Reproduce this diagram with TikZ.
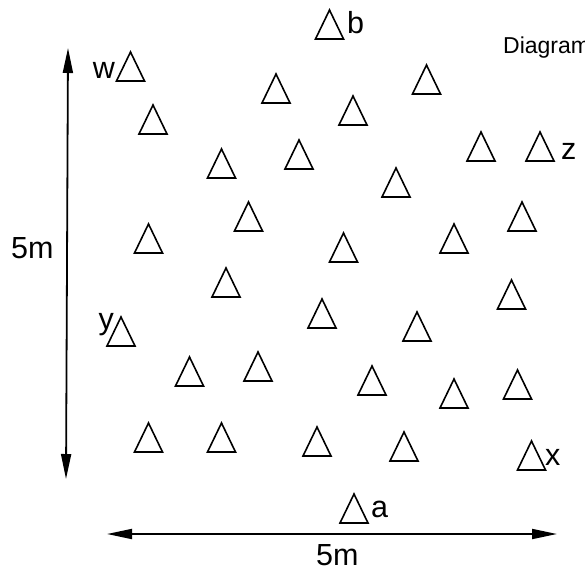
\documentclass[tikz,border=0pt]{standalone}
\usepackage{fontspec}
\setmainfont{Liberation Sans}
\usetikzlibrary{arrows.meta}
\tikzset{
  tri/.style={line width=1.6pt, line join=miter},
  lbl/.style={inner sep=0pt, font=\fontsize{30.5}{32}\selectfont},
  dim/.style={line width=1.8pt, {Triangle[length=25pt,width=10pt]}-{Triangle[length=25pt,width=10pt]}}
}
\begin{document}
\begin{tikzpicture}[x=1pt,y=-1pt]
  \useasboundingbox (0,0) rectangle (585,570);
  % triangles: base centre
  \foreach \cx/\by in {130.5/81, 153/134, 276/103, 329.5/39, 353/125, 426.5/94,
      221.5/178, 299/169, 396/197, 481/161, 540/161, 248.5/231, 148.5/253,
      343.5/262, 454/253, 522/231, 226/297, 322/328, 511.5/309, 121/346,
      417/341, 189.5/386, 258/381, 372/395, 454/408, 517.5/399, 148.5/452,
      221.5/452, 317/456, 404/461, 531.5/470, 354/523}
    \draw[tri] (\cx-14,\by) -- (\cx+14,\by) -- (\cx,\by-29) -- cycle;
  % labels
  \node[lbl, anchor=base east] (w) at (115,78) {w};
  \node[lbl, anchor=base west] (b) at (347,33) {b};
  \node[lbl, anchor=base west] (z) at (561,159) {z};
  \node[lbl, anchor=base east] (y) at (114,329) {y};
  \node[lbl, anchor=base west] (x) at (545,465) {x};
  \node[lbl, anchor=base west] (a) at (371,517) {a};
  \node[inner sep=0pt, anchor=base west, font=\fontsize{23}{25}\selectfont] (title) at (503,53) {Diagram};
  % dimensions
  \coordinate (vtop) at (68,48);
  \coordinate (vbot) at (66,479);
  \coordinate (hleft) at (107,534);
  \coordinate (hright) at (557,534);
  \draw[dim] (vtop) -- (vbot);
  \draw[dim] (hleft) -- (hright);
  \node[lbl, anchor=base west] (vlen) at (11,258) {5m};
  \node[lbl, anchor=base west] (hlen) at (316,565) {5m};
\end{tikzpicture}
\end{document}
